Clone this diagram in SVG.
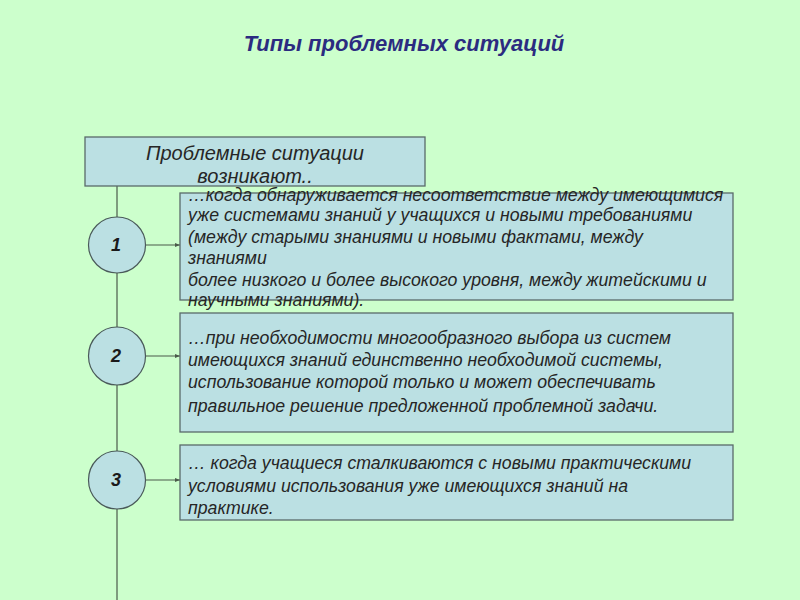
<svg xmlns="http://www.w3.org/2000/svg" width="800" height="600" viewBox="0 0 800 600">
<style>
.box{fill:#BBE0E3;stroke:#5a6a6a;stroke-width:1.3}
.circ{fill:#BBE0E3;stroke:#4a5a5a;stroke-width:1.2}
.ln{stroke:#4a5a4a;stroke-width:1.2;fill:none}
.t{font-family:"Liberation Sans",Arial,sans-serif;font-style:italic;font-size:17.7px;fill:#262626}
.num{font-family:"Liberation Sans",Arial,sans-serif;font-style:italic;font-weight:bold;font-size:18px;fill:#1a1a1a;text-anchor:middle}
.head{font-family:"Liberation Sans",Arial,sans-serif;font-style:italic;font-size:20px;fill:#262626;text-anchor:middle}
.title{font-family:"Liberation Sans",Arial,sans-serif;font-style:italic;font-weight:bold;font-size:22px;fill:#2B2B80;text-anchor:middle}
</style>
<defs>
<marker id="ah" markerWidth="6" markerHeight="6" refX="5" refY="3" orient="auto" markerUnits="userSpaceOnUse">
<path d="M0,1 L5,3 L0,5 z" fill="#4a5a4a"/>
</marker>
</defs>
<rect width="800" height="600" fill="#CCFFCC"/>
<text class="title" x="404" y="51">Типы проблемных ситуаций</text>

<g id="connectors">
<line class="ln" x1="117" y1="186" x2="117" y2="600"/>
<line class="ln" x1="145" y1="245" x2="180" y2="245" marker-end="url(#ah)"/>
<line class="ln" x1="145" y1="356" x2="180" y2="356" marker-end="url(#ah)"/>
<line class="ln" x1="145" y1="480" x2="180" y2="480" marker-end="url(#ah)"/>
</g>

<g id="header">
<rect class="box" x="85" y="137" width="340" height="49"/>
<text class="head" x="255" y="160">Проблемные ситуации</text>
<text class="head" x="255" y="183">возникают..</text>
</g>

<g id="n1">
<ellipse class="circ" cx="117" cy="245" rx="28.5" ry="28"/>
<text class="num" x="116" y="251">1</text>
</g>
<g id="n2">
<ellipse class="circ" cx="117" cy="356" rx="28.5" ry="29"/>
<text class="num" x="116" y="362">2</text>
</g>
<g id="n3">
<ellipse class="circ" cx="117" cy="480" rx="28.5" ry="29"/>
<text class="num" x="116" y="486">3</text>
</g>

<g id="b1">
<rect class="box" x="180" y="193" width="553" height="107"/>
<text class="t" x="188" y="201">…когда обнаруживается несоответствие между имеющимися</text>
<text class="t" x="188" y="221">уже системами знаний у учащихся и новыми требованиями</text>
<text class="t" x="188" y="243">(между старыми знаниями и новыми фактами, между</text>
<text class="t" x="188" y="264">знаниями</text>
<text class="t" x="188" y="286">более низкого и более высокого уровня, между житейскими и</text>
<text class="t" x="188" y="306">научными знаниями).</text>
</g>

<g id="b2">
<rect class="box" x="180" y="313" width="553" height="119"/>
<text class="t" x="188" y="344">…при необходимости многообразного выбора из систем</text>
<text class="t" x="188" y="366">имеющихся знаний единственно необходимой системы,</text>
<text class="t" x="188" y="388">использование которой только и может обеспечивать</text>
<text class="t" x="188" y="412">правильное решение предложенной проблемной задачи.</text>
</g>

<g id="b3">
<rect class="box" x="180" y="445" width="553" height="75"/>
<text class="t" x="188" y="469">… когда учащиеся сталкиваются с новыми практическими</text>
<text class="t" x="188" y="492">условиями использования уже имеющихся знаний на</text>
<text class="t" x="188" y="514">практике.</text>
</g>
</svg>
